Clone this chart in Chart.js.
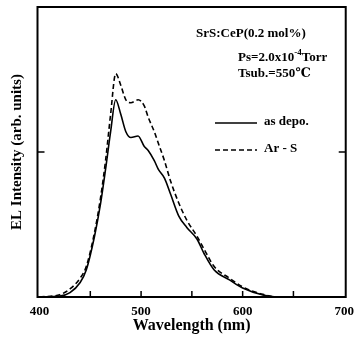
<!DOCTYPE html>
<html><head><meta charset="utf-8">
<script src="https://cdn.jsdelivr.net/npm/chart.js@4.4.0/dist/chart.umd.min.js"></script>
<style>html,body{margin:0;padding:0;background:#fff;}#wrap{width:361px;height:346px;}</style>
</head><body><div id="wrap"><canvas id="c" width="361" height="346"></canvas></div>
<script>
const wavelengths = [400,420,430,440,446,454,460,465,470,475,480,485,490,497,503,507,513,517,523,529,537,545,555,562,572,587,600,620,635,700];
const asDepo = [0,0.3,1.5,5,9.3,20.7,32,44,57,68,63,57,55,55.5,52,50.5,47,44,41,35.5,28,24,20,15,9.3,5.9,3.1,0.7,0,0];
const arS    = [0,0.8,2.8,6.5,10.5,22,34,47,63,77,73,68,67,68,66,62,57,53,47,40,32.5,26.5,21,16.5,10.5,6.5,3.5,0.9,0,0];
const xTicks = [400,450,500,550,600,650,700];
const xTickLabels = {400:'400',500:'500',600:'600',700:'700'};
const seriesNames = ['as depo.','Ar - S'];
const annot1 = 'SrS:CeP(0.2 mol%)';
const FONT = '"Liberation Serif", "DejaVu Serif", serif';

const pts = (ys) => wavelengths.map((w,i)=>({x:w,y:ys[i]}));

const framePlugin = {
  id:'frame',
  afterDraw(chart){
    const {ctx, chartArea:a, scales:{x,y}} = chart;
    ctx.save();
    ctx.strokeStyle='#000';
    ctx.lineWidth=2;
    ctx.strokeRect(a.left,a.top,a.right-a.left,a.bottom-a.top);
    ctx.lineWidth=1.5;
    ctx.beginPath();
    xTicks.forEach(v=>{ if(v===400||v===700) return; const px=x.getPixelForValue(v); ctx.moveTo(px,a.bottom); ctx.lineTo(px,a.bottom-6);});
    const py=y.getPixelForValue(50);
    ctx.moveTo(a.left,py); ctx.lineTo(a.left+7,py);
    ctx.moveTo(a.right,py); ctx.lineTo(a.right-7,py);
    ctx.stroke();
    // legend
    const ds = chart.data.datasets;
    const leg = [[123,0],[150,1]];
    ctx.lineWidth=1.6;
    leg.forEach(([ly,i])=>{
      ctx.setLineDash(ds[i].borderDash||[]);
      ctx.beginPath(); ctx.moveTo(215,ly); ctx.lineTo(257,ly); ctx.stroke();
    });
    ctx.setLineDash([]);
    ctx.fillStyle='#000';
    ctx.textBaseline='middle';
    ctx.textAlign='left';
    ctx.font='bold 13px '+FONT;
    ctx.fillText(seriesNames[0],264,122);
    ctx.fillText(seriesNames[1],264,149);
    // annotations
    ctx.fillText(annot1,196,34);
    let xx=238;
    ctx.fillText('Ps=2.0x10',xx,58); xx+=ctx.measureText('Ps=2.0x10').width;
    ctx.font='bold 9px '+FONT; ctx.fillText('-4',xx,53); xx+=ctx.measureText('-4').width;
    ctx.font='bold 13px '+FONT; ctx.fillText('Torr',xx,58);
    ctx.fillText('Tsub.=550\u2103',238,74);
    ctx.restore();
  }
};

new Chart(document.getElementById('c'),{
  type:'line',
  data:{datasets:[
    {label:seriesNames[0],data:pts(asDepo),borderColor:'#000',borderWidth:1.6,pointRadius:0,fill:false,cubicInterpolationMode:'monotone'},
    {label:seriesNames[1],data:pts(arS),borderColor:'#000',borderWidth:1.6,borderDash:[5,3],pointRadius:0,fill:false,cubicInterpolationMode:'monotone'}
  ]},
  options:{
    responsive:false,animation:false,
    layout:{padding:{left:0,top:7,right:9.5,bottom:0}},
    plugins:{legend:{display:false},tooltip:{enabled:false}},
    scales:{
      x:{type:'linear',min:398,max:701.5,
        afterBuildTicks:(s)=>{s.ticks=xTicks.map(v=>({value:v}));},
        afterFit:(s)=>{s.height=49;},
        grid:{display:false,drawTicks:false},border:{display:false},
        ticks:{padding:7,autoSkip:false,maxRotation:0,color:'#000',font:{family:FONT,size:13,weight:'bold'},callback:(v)=>xTickLabels[v]||''},
        title:{display:true,text:'Wavelength (nm)',color:'#000',font:{family:FONT,size:16,weight:'bold'},padding:{top:0,bottom:11}}
      },
      y:{min:0,max:100,
        afterFit:(s)=>{s.width=37.5;},
        grid:{display:false,drawTicks:false},border:{display:false},
        ticks:{display:false},
        title:{display:true,text:'EL Intensity (arb. units)',color:'#000',font:{family:FONT,size:15,weight:'bold'},padding:{top:8,bottom:0}}
      }
    }
  },
  plugins:[framePlugin]
});
</script></body></html>
